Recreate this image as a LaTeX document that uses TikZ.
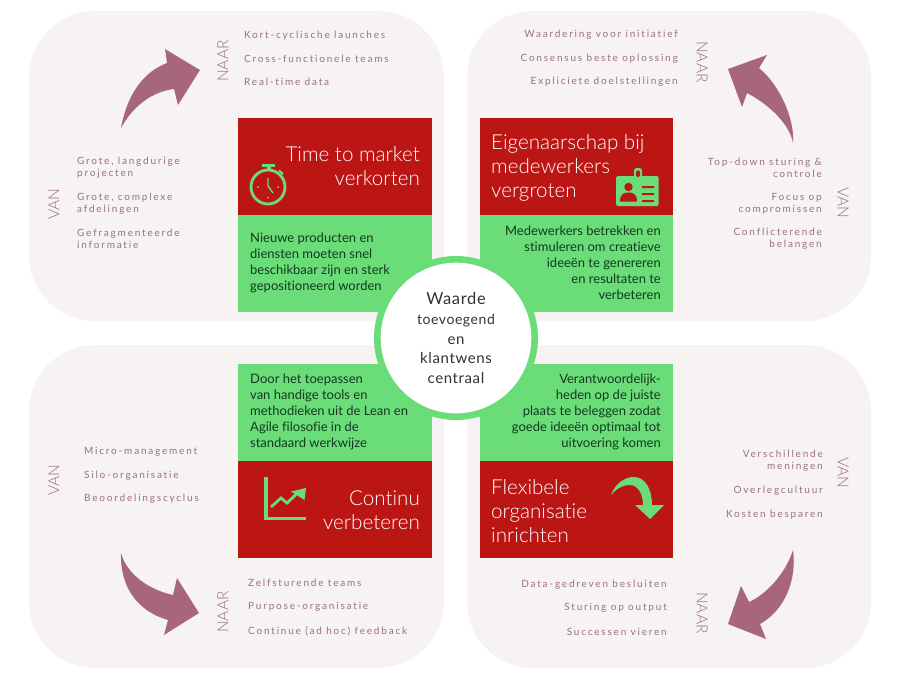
\documentclass[tikz,border=0pt]{standalone}
\usepackage{fontspec}
\setmainfont[Ligatures=NoCommon]{Lato}
\newfontfamily\lightface[UprightFont=* Light,Ligatures=NoCommon]{Lato}
\newfontfamily\spacedface[LetterSpace=18,Ligatures=NoCommon]{Lato}
\newfontfamily\centerface[LetterSpace=4,Ligatures=NoCommon]{Lato}
\definecolor{panelc}{HTML}{F7F3F2}
\definecolor{redc}{HTML}{BC1614}
\definecolor{greenc}{HTML}{6ADC78}
\definecolor{arrowc}{HTML}{A8657E}
\definecolor{mauvec}{HTML}{9B7080}
\definecolor{darkc}{HTML}{123A20}
\tikzset{
  panel/.style={fill=panelc,draw=none,rounded corners=66pt},
  redbox/.style={fill=redc,draw=none},
  greenbox/.style={fill=greenc,draw=none},
  bigarrow/.style={fill=arrowc,draw=none},
  icon/.style={fill=greenc,draw=none},
  iconline/.style={draw=greenc,fill=none},
  title/.style={inner sep=0pt,text=white,font=\lightface\fontsize{20.6}{24}\selectfont},
  body/.style={inner sep=0pt,text=darkc,font=\fontsize{13}{16}\selectfont},
  itemtext/.style={inner sep=0pt,yshift=-1.2pt,text=mauvec,font=\spacedface\fontsize{10}{12}\selectfont},
  side/.style={inner sep=0pt,text=mauvec,font=\lightface\fontsize{15.5}{16}\selectfont},
  mid/.style={inner sep=0pt,text=black!80,font=\centerface\fontsize{15}{19.7}\selectfont,align=center}
}
\begin{document}
\begin{tikzpicture}[x=1pt,y=-1pt]
\useasboundingbox[fill=white] (0,0) rectangle (900,686);
% panels
\fill[panel] (29,11) rectangle (444,321);
\fill[panel] (467,11) rectangle (871,321);
\fill[panel] (29,345) rectangle (444,668);
\fill[panel] (467,345) rectangle (871,668);
% boxes
\fill[redbox] (238,118) rectangle (432,215);
\fill[greenbox] (238,215) rectangle (432,312);
\fill[redbox] (480,118) rectangle (673,215);
\fill[greenbox] (480,215) rectangle (673,312);
\fill[greenbox] (238,364) rectangle (432,461);
\fill[redbox] (238,461) rectangle (432,558);
\fill[greenbox] (480,364) rectangle (673,461);
\fill[redbox] (480,461) rectangle (673,558);
% centre
\fill[greenc] (456,338) circle (82);
\fill[white] (456,338) circle (75.3);
\node[mid] (centre) at (456,338) {{\fontsize{16.5}{19.7}\selectfont Waarde}\\{\fontsize{14}{19.7}\selectfont toevoegend}\\en\\klantwens\\centraal};
% big arrows
\fill[bigarrow] (121,128) .. controls (127,95) and (143,72) .. (167,63) -- (165,49) -- (200,70) -- (178,105) -- (174,89) .. controls (150,92) and (132,108) .. (121,128) -- cycle;
\fill[bigarrow] (793,143) .. controls (795,120) and (780,85) .. (759,68) -- (767,55) -- (728,69) -- (742,107) -- (747,93) .. controls (770,105) and (790,125) .. (793,143) -- cycle;
\fill[bigarrow] (121,553) .. controls (127,575) and (150,590) .. (173,595) -- (177,578) -- (199,613) -- (164,635) -- (168,620) .. controls (140,612) and (120,590) .. (121,553) -- cycle;
\fill[bigarrow] (793,550) .. controls (785,575) and (765,595) .. (749,602) -- (741,586) -- (728,624) -- (766,639) -- (760,624) .. controls (785,610) and (797,580) .. (793,550) -- cycle;
% titles
\node[title,align=right,anchor=east] (t1) at (420,166) {Time to market\\verkorten};
\node[title,align=left,anchor=west] (t2) at (491,167.5) {Eigenaarschap bij\\medewerkers\\vergroten};
\node[title,align=right,anchor=east] (t3) at (420,510.5) {Continu\\verbeteren};
\node[title,align=left,anchor=west] (t4) at (491,511) {Flexibele\\organisatie\\inrichten};
% body texts
\node[body,align=left,anchor=west] (b1) at (250,263) {Nieuwe producten en\\diensten moeten snel\\beschikbaar zijn en sterk\\gepositioneerd worden};
\node[body,align=right,anchor=east] (b2) at (661,263) {Medewerkers betrekken en\\stimuleren om creatieve\\ideeën te genereren\\en resultaten te\\verbeteren};
\node[body,align=left,anchor=west] (b3) at (250,412) {Door het toepassen\\van handige tools en\\methodieken uit de Lean en\\Agile filosofie in de\\standaard werkwijze};
\node[body,align=right,anchor=east] (b4) at (661,412) {Verantwoordelijk-\\heden op de juiste\\plaats te beleggen zodat\\goede ideeën optimaal tot\\uitvoering komen};
% side labels
\node[side,rotate=90] (s1) at (223,61) {NAAR};
\node[side,rotate=90] (s2) at (54,204) {VAN};
\node[side,rotate=-90] (s3) at (702,62) {NAAR};
\node[side,rotate=-90] (s4) at (843,203) {VAN};
\node[side,rotate=90] (s5) at (54,480) {VAN};
\node[side,rotate=90] (s6) at (223,612) {NAAR};
\node[side,rotate=-90] (s7) at (843,473) {VAN};
\node[side,rotate=-90] (s8) at (702,613) {NAAR};
% lists: top left
\node[itemtext,anchor=west] (i1) at (244,34) {Kort-cyclische launches};
\node[itemtext,anchor=west] (i2) at (244,58) {Cross-functionele teams};
\node[itemtext,anchor=west] (i3) at (244,81) {Real-time data};
\node[itemtext,anchor=west,align=left] (i4) at (77,167) {Grote, langdurige\\projecten};
\node[itemtext,anchor=west,align=left] (i5) at (77,203) {Grote, complexe\\afdelingen};
\node[itemtext,anchor=west,align=left] (i6) at (77,238) {Gefragmenteerde\\informatie};
% lists: top right
\node[itemtext,anchor=east] (i7) at (678,34) {Waardering voor initiatief};
\node[itemtext,anchor=east] (i8) at (678,58) {Consensus beste oplossing};
\node[itemtext,anchor=east] (i9) at (678,81) {Expliciete doelstellingen};
\node[itemtext,anchor=east,align=right] (i10) at (822,167) {Top-down sturing \&\\controle};
\node[itemtext,anchor=east,align=right] (i11) at (822,203) {Focus op\\compromissen};
\node[itemtext,anchor=east,align=right] (i12) at (822,238) {Conflicterende\\belangen};
% lists: bottom left
\node[itemtext,anchor=west] (i13) at (84,451) {Micro-management};
\node[itemtext,anchor=west] (i14) at (84,475) {Silo-organisatie};
\node[itemtext,anchor=west] (i15) at (84,498) {Beoordelingscyclus};
\node[itemtext,anchor=west] (i16) at (248,582) {Zelfsturende teams};
\node[itemtext,anchor=west] (i17) at (248,606) {Purpose-organisatie};
\node[itemtext,anchor=west] (i18) at (248,630) {Continue (ad hoc) feedback};
% lists: bottom right
\node[itemtext,anchor=east,align=right] (i19) at (823,460) {Verschillende\\meningen};
\node[itemtext,anchor=east] (i20) at (823,490) {Overlegcultuur};
\node[itemtext,anchor=east] (i21) at (823,513) {Kosten besparen};
\node[itemtext,anchor=east] (i22) at (667,584) {Data-gedreven besluiten};
\node[itemtext,anchor=east] (i23) at (667,607) {Sturing op output};
\node[itemtext,anchor=east] (i24) at (667,631) {Successen vieren};
% stopwatch icon
\draw[iconline,line width=2.8pt] (268,187) circle (17);
\fill[icon] (262,163.5) rectangle (275,166.5);
\fill[icon] (266.5,166) rectangle (270.5,171);
\draw[iconline,line width=2pt] (279,170.5) -- (283,174);
\draw[iconline,line width=1.4pt] (268,178) -- (268,186) -- (273,193);
\fill[icon] (258,187) circle (1) (278,187) circle (1) (268,197.5) circle (1);
% badge icon
\fill[icon,rounded corners=1.5pt] (616,176) rectangle (658.5,206);
\fill[icon,rounded corners=2.5pt] (634,168) rectangle (642,180);
\fill[redc,rounded corners=1.5pt] (636,170.5) rectangle (640,177);
\fill[redc] (628.5,187) circle (4.2);
\fill[redc] (620,201.5) .. controls (620,194) and (624,192.5) .. (628.5,192.5) .. controls (633,192.5) and (637,194) .. (637,201.5) -- cycle;
\fill[redc] (642,186) rectangle (654,188) (642,193) rectangle (654,195) (642,200) rectangle (654,202);
% chart icon
\fill[icon] (263.5,477) rectangle (267.5,520);
\fill[icon] (263.5,516.5) rectangle (306,520);
\draw[iconline,line width=2.8pt] (271,507) -- (281,498) -- (287,503) -- (296,494.5);
\fill[icon] (306,488) -- (304.5,500) -- (291,491.5) -- cycle;
% curved arrow icon
\fill[icon] (611,495) .. controls (616,482) and (626,477) .. (634,477) .. controls (645,477) and (652,489) .. (652,505) -- (664,505) -- (650,519) -- (635,505) -- (643,505) .. controls (643,494) and (638,485) .. (630,485) .. controls (622,485) and (616,489) .. (611,495) -- cycle;
\end{tikzpicture}
\end{document}
